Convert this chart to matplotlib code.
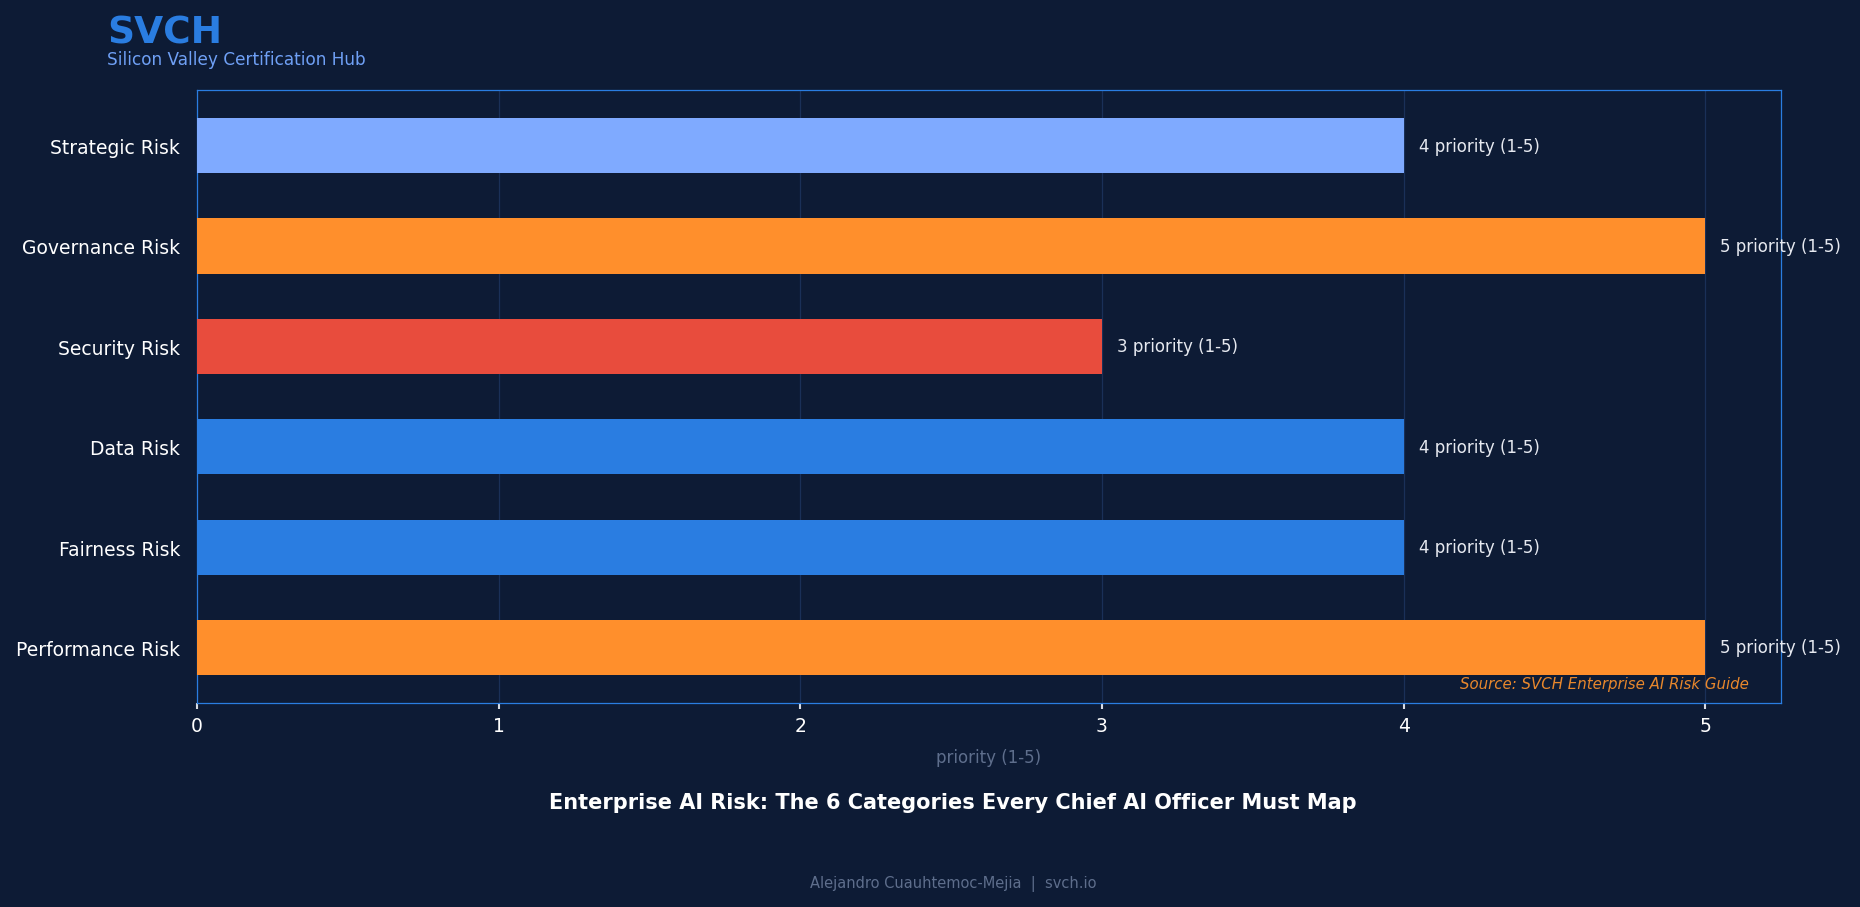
import matplotlib.pyplot as plt

categories = ["Strategic Risk", "Governance Risk", "Security Risk",
              "Data Risk", "Fairness Risk", "Performance Risk"]
values = [4, 5, 3, 4, 4, 5]
bar_colors = ["#7FAAFF", "#FF8F2C", "#E84C3D", "#2A7DE1", "#2A7DE1", "#FF8F2C"]
unit = "priority (1-5)"

BG = "#0D1B35"
BLUE = "#2A7DE1"

fig = plt.figure(figsize=(12.4, 6.053), dpi=150, facecolor=BG)
ax = fig.add_axes([0.1059, 0.2247, 0.8515, 0.6750])
ax.set_facecolor(BG)

y = list(range(len(categories)))
ax.barh(y, values, height=0.55, color=bar_colors, zorder=3)
ax.invert_yaxis()
ax.set_yticks(y)
ax.set_yticklabels(categories)
ax.set_xlim(0, 5.25)

for yi, v in zip(y, values):
    ax.text(v + 0.05, yi, f"{v} {unit}", va="center", ha="left",
            color="#E6E9F0", fontsize=8, clip_on=False, zorder=4)

ax.grid(axis="x", color="#1A3058", linewidth=0.6, zorder=0)
ax.grid(axis="y", visible=False)
for s in ax.spines.values():
    s.set_color(BLUE)
    s.set_linewidth(0.6)

ax.tick_params(axis="y", length=0, colors="white", labelsize=9, pad=8)
ax.tick_params(axis="x", colors="#D8DCE4", labelcolor="white", labelsize=9,
               length=3, width=1)
ax.set_xlabel(unit, color="#5E6E8C", fontsize=8, labelpad=6)

ax.text(0.98, 0.02, "Source: SVCH Enterprise AI Risk Guide", transform=ax.transAxes,
        ha="right", va="bottom", color="#E8872C", fontsize=7.2, style="italic", zorder=5)

fig.text(0.0575, 0.9526, "SVCH", color=BLUE, fontsize=18, fontweight="bold",
         va="baseline", ha="left")
fig.text(0.0575, 0.928, "Silicon Valley Certification Hub", color="#6FA0F5",
         fontsize=8.1, va="baseline", ha="left")
fig.text(0.5125, 0.1156, "Enterprise AI Risk: The 6 Categories Every Chief AI Officer Must Map",
         color="white", fontsize=10, fontweight="bold", ha="center", va="center")
fig.text(0.5125, 0.0264, "Alejandro Cuauhtemoc-Mejia  |  svch.io", color="#5E6E8C",
         fontsize=7, ha="center", va="center")

fig.savefig("out.png", dpi=150, facecolor=BG)
